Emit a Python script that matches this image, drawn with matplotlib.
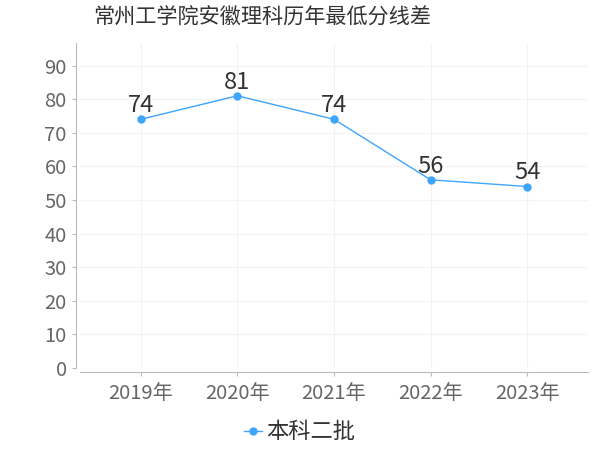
import matplotlib.pyplot as plt

plt.rcParams['font.family'] = ['Noto Sans CJK SC', 'DejaVu Sans']

years = ['2019年', '2020年', '2021年', '2022年', '2023年']
scores = [74, 81, 74, 56, 54]
series_name = '本科二批'
title = '常州工学院安徽理科历年最低分线差'

LINE_COL = '#3ea5fc'

fig = plt.figure(figsize=(6, 4.5), dpi=100)
ax = fig.add_axes([80 / 600, 82 / 450, 508 / 600, 325 / 450])

x = list(range(len(years)))
ax.plot(x, scores, c=LINE_COL, lw=1, marker='o', ms=5, label=series_name)
for xi, v in zip(x, scores):
    ax.annotate(str(v), (xi, v), xytext=(0, 1.5), textcoords='offset points',
                ha='center', va='bottom', fontsize=17, color='#333333')

ax.set_xlim(-0.63, 4.63)
ax.set_ylim(0, 96.7)
ax.set_yticks(range(0, 100, 10))
ax.set_xticks(x)
ax.set_xticklabels(years)

ax.grid(True, color='#f3f3f3', lw=0.8)
ax.set_axisbelow(True)
for s in ['top', 'right']:
    ax.spines[s].set_visible(False)
ax.spines['left'].set_position(('outward', 3))
ax.spines['bottom'].set_position(('outward', 3))
ax.spines['left'].set_color('#bbbbbb')
ax.spines['bottom'].set_color('#bbbbbb')
ax.tick_params(axis='both', colors='#bbbbbb', labelcolor='#666666', labelsize=14.5, length=3)
ax.tick_params(axis='x', pad=5)

fig.text(262 / 600, 432 / 450, title, ha='center', va='center', fontsize=15.2, color='#333333')

fig.legend(loc='center', bbox_to_anchor=(300 / 600, 18 / 450), frameon=False,
           fontsize=16, handlelength=0.8, handletextpad=0.2, labelcolor='#333333')

fig.savefig('out.png')
